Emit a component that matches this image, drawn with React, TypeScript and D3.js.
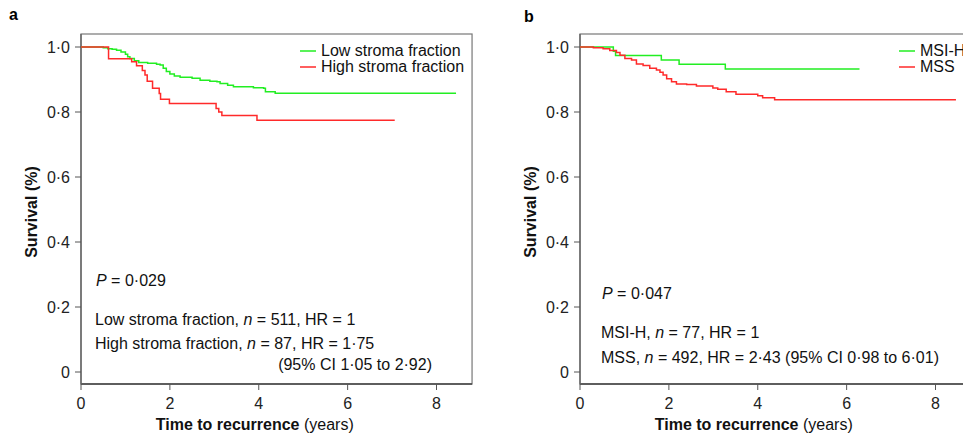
import React from 'react';
import * as d3 from 'd3';

// Kaplan-Meier step points: [time (years), survival]
const lowStroma: [number, number][] = [
  [0, 1], [0.5, 0.998], [0.6, 0.995], [0.7, 0.993], [0.8, 0.99], [0.9, 0.985],
  [1.0, 0.978], [1.05, 0.97], [1.1, 0.965], [1.2, 0.958], [1.3, 0.952], [1.5, 0.95],
  [1.7, 0.947], [1.78, 0.945], [1.85, 0.935], [1.92, 0.925], [2.0, 0.917], [2.1, 0.911],
  [2.23, 0.907], [2.5, 0.904], [2.68, 0.898], [2.9, 0.895], [3.06, 0.893], [3.13, 0.888],
  [3.3, 0.882], [3.43, 0.878], [3.88, 0.875], [4.11, 0.873], [4.15, 0.862], [4.37, 0.858],
  [8.44, 0.858]
];
const highStroma: [number, number][] = [
  [0, 1], [0.62, 0.964], [1.14, 0.955], [1.25, 0.942], [1.38, 0.928], [1.44, 0.914],
  [1.49, 0.895], [1.61, 0.873], [1.76, 0.857], [1.79, 0.839], [1.99, 0.826], [3.04, 0.811],
  [3.1, 0.8], [3.17, 0.789], [3.96, 0.775], [7.06, 0.775]
];
const msiH: [number, number][] = [
  [0, 1], [0.75, 0.987], [0.8, 0.974], [1.83, 0.96], [2.23, 0.947], [3.27, 0.932], [6.29, 0.932]
];
const mss: [number, number][] = [
  [0, 1], [0.3, 0.998], [0.52, 0.995], [0.67, 0.989], [0.82, 0.983], [0.9, 0.975],
  [1.01, 0.965], [1.16, 0.96], [1.27, 0.948], [1.42, 0.943], [1.57, 0.935], [1.72, 0.929],
  [1.8, 0.922], [1.87, 0.914], [1.95, 0.902], [2.06, 0.893], [2.17, 0.886], [2.4, 0.885],
  [2.62, 0.88], [2.99, 0.874], [3.1, 0.87], [3.29, 0.862], [3.51, 0.855], [4.0, 0.85],
  [4.11, 0.844], [4.38, 0.838], [8.46, 0.838]
];

const xTicks = [0, 2, 4, 6, 8];
const yTicks = [0, 0.2, 0.4, 0.6, 0.8, 1.0];
const yTickLabels = ['0', '0·2', '0·4', '0·6', '0·8', '1·0'];

const GREEN = '#22ee22';
const RED = '#ff2a2a';
const FONT = 'Arial, "Liberation Sans", sans-serif';

type PanelProps = {
  left: number;
  xMax: number;
  label: string;
  labelX: number;
  labelY: number;
  green: [number, number][];
  red: [number, number][];
  legend: string[];
  legendX: number;
  annot: React.ReactNode;
};

function Panel(p: PanelProps) {
  const x = d3.scaleLinear().domain([0, 8]).range([p.left, p.left + 355.5]);
  const y = d3.scaleLinear().domain([0, 1]).range([372, 47]);
  const line = d3.line<[number, number]>()
    .x(d => x(d[0]))
    .y(d => y(d[1]))
    .curve(d3.curveStepAfter);
  const top = 34, bottom = 384;
  const right = x(p.xMax);
  return (
    <g fontFamily={FONT}>
      <text x={p.labelX} y={p.labelY} fontSize={16} fontWeight="bold">{p.label}</text>
      <rect x={p.left} y={top} width={right - p.left} height={bottom - top}
        fill="none" stroke="#777" strokeWidth={1.2} />
      <line x1={p.left} x2={right} y1={bottom} y2={bottom} stroke="#444" strokeWidth={1.4} />
      <line x1={p.left} x2={p.left} y1={top} y2={bottom} stroke="#666" strokeWidth={1.4} />
      {yTicks.map((t, i) => (
        <g key={t}>
          <line x1={p.left - 6} x2={p.left} y1={y(t)} y2={y(t)} stroke="#555" />
          <text x={p.left - 11} y={y(t)} dy="0.36em" textAnchor="end" fontSize={16} fill="#222">
            {yTickLabels[i]}
          </text>
        </g>
      ))}
      {xTicks.map(t => (
        <g key={t}>
          <line x1={x(t)} x2={x(t)} y1={bottom} y2={bottom + 6} stroke="#555" />
          <text x={x(t)} y={409} textAnchor="middle" fontSize={16} fill="#222">{t}</text>
        </g>
      ))}
      <text x={x(4) - 4} y={430} textAnchor="middle" fontSize={16} fill="#111">
        <tspan fontWeight="bold">Time to recurrence</tspan> (years)
      </text>
      <text transform={`translate(${p.left - 44},212) rotate(-90)`} textAnchor="middle"
        fontSize={16} fontWeight="bold" fill="#111">Survival (%)</text>
      <path d={line(p.green) || ''} fill="none" stroke={GREEN} strokeWidth={1.5} />
      <path d={line(p.red) || ''} fill="none" stroke={RED} strokeWidth={1.5} />
      <line x1={p.legendX} x2={p.legendX + 16} y1={51} y2={51} stroke={GREEN} strokeWidth={1.5} />
      <text x={p.legendX + 21} y={56} fontSize={16} fill="#111">{p.legend[0]}</text>
      <line x1={p.legendX} x2={p.legendX + 16} y1={67} y2={67} stroke={RED} strokeWidth={1.5} />
      <text x={p.legendX + 21} y={72} fontSize={16} fill="#111">{p.legend[1]}</text>
      {p.annot}
    </g>
  );
}

export default function App() {
  return (
    <svg width={963} height={433} style={{ position: 'absolute', left: 0, top: 0, background: '#fff' }}>
      <Panel left={81} xMax={8.8} label="a" labelX={9} labelY={20}
        green={lowStroma} red={highStroma}
        legend={['Low stroma fraction', 'High stroma fraction']} legendX={300}
        annot={
          <g fontSize={16} fill="#111">
            <text x={96} y={286}><tspan fontStyle="italic">P</tspan> = 0·029</text>
            <text x={95} y={325}>Low stroma fraction, <tspan fontStyle="italic">n</tspan> = 511, HR = 1</text>
            <text x={95} y={349}>High stroma fraction, <tspan fontStyle="italic">n</tspan> = 87, HR = 1·75</text>
            <text x={432} y={370} textAnchor="end">(95% CI 1·05 to 2·92)</text>
          </g>
        } />
      <Panel left={580} xMax={9.5} label="b" labelX={524} labelY={22}
        green={msiH} red={mss}
        legend={['MSI-H', 'MSS']} legendX={899}
        annot={
          <g fontSize={16} fill="#111">
            <text x={602} y={299}><tspan fontStyle="italic">P</tspan> = 0·047</text>
            <text x={601} y={338}>MSI-H, <tspan fontStyle="italic">n</tspan> = 77, HR = 1</text>
            <text x={601} y={363}>MSS, <tspan fontStyle="italic">n</tspan> = 492, HR = 2·43 (95% CI 0·98 to 6·01)</text>
          </g>
        } />
    </svg>
  );
}
